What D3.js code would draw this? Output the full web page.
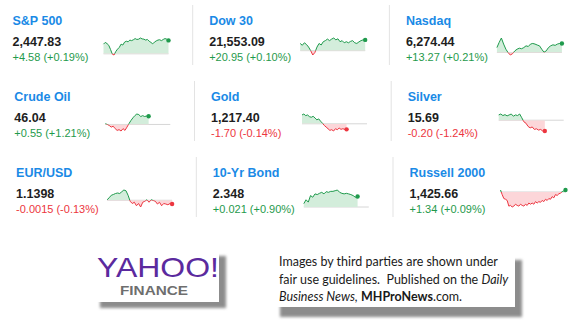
<!DOCTYPE html>
<html>
<head>
<meta charset="utf-8">
<script src="https://cdn.jsdelivr.net/npm/d3@7"></script>
<style>
  body { margin: 0; background: #fff; }
  svg { display: block; }
</style>
</head>
<body>
<div id="chart"></div>
<script>
// market summary, one entry per panel (row by row)
const names = ["S&P 500", "Dow 30", "Nasdaq", "Crude Oil", "Gold", "Silver", "EUR/USD", "10-Yr Bond", "Russell 2000"];
const priceLabels = ["2,447.83", "21,553.09", "6,274.44", "46.04", "1,217.40", "15.69", "1.1398", "2.348", "1,425.66"];
const changeLabels = ["+4.58 (+0.19%)", "+20.95 (+0.10%)", "+13.27 (+0.21%)", "+0.55 (+1.21%)", "-1.70 (-0.14%)",
  "-0.20 (-1.24%)", "-0.0015 (-0.13%)", "+0.021 (+0.90%)", "+1.34 (+0.09%)"];
const changes = [4.58, 20.95, 13.27, 0.55, -1.70, -0.20, -0.0015, 0.021, 1.34];

// intraday move vs previous close
const spSeries = [3.3, 3.9, 3.5, 2.9, 1.5, -0.1, -0.4, 0.8, 1.6, 2.2, 3.3, 3.0, 4.0, 4.3, 4.1, 4.7, 4.5, 4.8, 5.2, 4.9,
  5.0, 5.4, 5.1, 5.0, 4.7, 4.9, 4.3, 3.9, 3.4, 4.0, 4.4, 4.7, 4.8, 4.5, 4.9, 5.2, 5.0, 4.58];
const dowSeries = [14, 10.5, 15.3, 12, 7, 0, -8.4, -3.6, 7, 14, 11, 17.4, 19.5, 22.5, 19.5, 22.5, 24.6, 21, 23, 17.4,
  19.5, 15.3, 17.4, 15.3, 18, 19.5, 15.3, 14, 17, 19.5, 21, 20.95];
const nasdaqSeries = [7.2, 14.8, 21.4, 12.4, 4.8, -0.3, -3.8, -1.8, 2.3, 4.8, 6.3, 5.5, 7.2, 9.8, 8.8, 12.4, 13.3, 12.4,
  11, 9.8, 4.8, 0.3, 2.3, 7.2, 9.8, 11.3, 10.5, 12.4, 13.3, 13.27];
const crudeSeries = [0.05, 0, -0.07, -0.18, -0.12, -0.28, -0.40, -0.35, -0.44, -0.28, -0.40, -0.18, 0.05, 0.26, 0.44,
  0.59, 0.70, 0.66, 0.53, 0.59, 0.53, 0.57, 0.55];
const goldSeries = [2.7, 3.0, 2.5, 2.7, 2.2, 2.0, 2.3, 1.8, 1.2, 1.5, 0.8, 0.2, -0.5, -1.0, -1.5, -2.0, -1.8, -2.2, -1.5,
  -1.8, -1.3, -1.7, -1.5, -1.7, -1.70];
const silverSeries = [0.098, 0.115, 0.086, 0.103, 0.080, 0.098, 0.115, 0.074, 0.098, 0.086, 0.115, 0.046, -0.029, -0.056,
  -0.115, -0.142, -0.125, -0.171, -0.159, -0.183, -0.171, -0.2, -0.2];
const eurSeries = [0.0002, 0.001, 0.002, 0.0023, 0.0027, 0.0029, 0.0027, 0.0034, 0.0041, 0.0038, 0.002, -0.0004, -0.0013,
  -0.0008, -0.0022, -0.0013, -0.0027, -0.0008, -0.0004, 0.0002, -0.0008, 0.0002, -0.0001, -0.0004, -0.0015, -0.0008,
  -0.0022, -0.0013, -0.0015, -0.0018, -0.0013, -0.0015];
const bondSeries = [0.0067, 0.0145, 0.0098, 0.0229, 0.0196, 0.0263, 0.0249, 0.0274, 0.0294, 0.0263, 0.0308, 0.0294,
  0.0314, 0.0314, 0.0327, 0.0341, 0.0294, 0.0274, 0.0263, 0.0274, 0.0263, 0.0249, 0.0229, 0.0196, 0.021];
const russellSeries = [1.34, -1.8, -4.5, -5.0, -5.8, -9.7, -9.2, -10.3, -9.7, -8.4, -9.2, -9.7, -8.4, -9.2, -9.7, -8.4,
  -9.2, -7.6, -8.4, -7.6, -8.4, -6.6, -7.6, -6.6, -7.1, -5.8, -6.6, -5.0, -5.8, -4.5, -5.0, -3.2, -4.0, -1.8, -2.4,
  -1.3, -0.8, 0.2, 0.8, 1.34];

const allSeries = [spSeries, dowSeries, nasdaqSeries, crudeSeries, goldSeries, silverSeries, eurSeries, bondSeries, russellSeries];
// samples in a full session window (futures are still trading, so their lines stop early)
const sessionSlots = [38, 32, 30, 34, 36, 32, 32, 30, 40];

const width = 575, height = 325;
const green = "#1f9a4c", red = "#ec3640";
const greenFill = "#d3eddb", redFill = "#fcd6d9";
const font = "'Liberation Sans', Arial, sans-serif";

const svg = d3.select("#chart").append("svg")
  .attr("width", width)
  .attr("height", height);

const defs = svg.append("defs");
defs.append("filter").attr("id", "soft")
  .attr("x", "-10%").attr("y", "-20%").attr("width", "130%").attr("height", "150%")
  .append("feGaussianBlur").attr("stdDeviation", 1.8);

names.forEach((name, i) => {
  const col = i % 3, row = Math.floor(i / 3);
  const tx = 12.5 + col * 196.7 + row * 1.8;
  const ty = 25 + row * 76;
  const g = svg.append("g");

  // divider to the left of the 2nd and 3rd columns
  if (col > 0) {
    g.append("line")
      .attr("x1", tx - 16.5).attr("x2", tx - 16.5)
      .attr("y1", ty - 20).attr("y2", ty + 40)
      .attr("stroke", "#e3e3e3").attr("stroke-width", 1);
  }

  g.append("text")
    .attr("x", tx).attr("y", ty)
    .attr("font-family", font).attr("font-size", 12.5).attr("font-weight", "bold")
    .attr("fill", "#1a8ae6")
    .text(name);

  g.append("text")
    .attr("x", tx).attr("y", ty + 21)
    .attr("font-family", font).attr("font-size", 12.5).attr("font-weight", "bold")
    .attr("fill", "#1e1e1e")
    .text(priceLabels[i]);

  g.append("text")
    .attr("x", tx).attr("y", ty + 35.5)
    .attr("font-family", font).attr("font-size", 11)
    .attr("fill", changes[i] < 0 ? red : green)
    .text(changeLabels[i]);

  // sparkline
  const data = allSeries[i];
  const left = tx + 91, top = ty + 13, w = 65, h = 17;
  const x = d3.scaleLinear().domain([0, sessionSlots[i] - 1]).range([left, left + w]);
  const y = d3.scaleLinear().domain(d3.extent(data.concat([0]))).range([top + h, top]);
  const y0 = y(0);

  const upId = "up" + i, downId = "down" + i;
  defs.append("clipPath").attr("id", upId).append("rect")
    .attr("x", left - 3).attr("y", top - 5).attr("width", w + 6).attr("height", y0 - top + 5);
  defs.append("clipPath").attr("id", downId).append("rect")
    .attr("x", left - 3).attr("y", y0).attr("width", w + 6).attr("height", top + h - y0 + 5);

  const area = d3.area().x((d, j) => x(j)).y0(y0).y1(d => y(d));
  const line = d3.line().x((d, j) => x(j)).y(d => y(d));

  g.append("line")
    .attr("x1", left).attr("x2", left + w)
    .attr("y1", y0).attr("y2", y0)
    .attr("stroke", "#d6d6d6").attr("stroke-width", 1);

  [[upId, greenFill, green], [downId, redFill, red]].forEach(([id, fill, stroke]) => {
    g.append("path").datum(data)
      .attr("clip-path", `url(#${id})`)
      .attr("fill", fill)
      .attr("d", area);
    g.append("path").datum(data)
      .attr("clip-path", `url(#${id})`)
      .attr("fill", "none")
      .attr("stroke", stroke).attr("stroke-width", 1)
      .attr("stroke-linejoin", "round")
      .attr("d", line);
  });

  const last = data[data.length - 1];
  g.append("circle")
    .attr("cx", x(data.length - 1)).attr("cy", y(last))
    .attr("r", 2.2)
    .attr("fill", last < 0 ? red : green);
});

// boxes with drop shadows
function shadowBox(x0, y0, w, h, dx, dy) {
  svg.append("rect")
    .attr("x", x0 + dx).attr("y", y0 + dy).attr("width", w).attr("height", h)
    .attr("fill", "#8c8c8c").attr("filter", "url(#soft)");
  svg.append("rect")
    .attr("x", x0).attr("y", y0).attr("width", w).attr("height", h)
    .attr("fill", "#fff");
}

shadowBox(93, 250, 126, 52, 7, 6);
svg.append("text")
  .attr("x", 97).attr("y", 277)
  .attr("font-family", font).attr("font-size", 28)
  .attr("textLength", 122).attr("lengthAdjust", "spacingAndGlyphs")
  .attr("fill", "#5b2a9e")
  .text("YAHOO!");
svg.append("text")
  .attr("x", 120).attr("y", 295)
  .attr("font-family", font).attr("font-size", 13.5).attr("font-weight", "bold")
  .attr("textLength", 68).attr("lengthAdjust", "spacingAndGlyphs")
  .attr("fill", "#6e6e6e")
  .text("FINANCE");

shadowBox(273, 250, 242, 57, 7, 10);
const note = svg.append("g")
  .attr("font-family", "Lato, 'Open Sans', sans-serif")
  .attr("fill", "#1a1a1a");
const l1 = note.append("text").attr("x", 279).attr("y", 266)
  .text("Images by third parties are shown under");
const l2 = note.append("text").attr("x", 279).attr("y", 284);
l2.append("tspan").text("fair use guidelines.\u00a0 Published on the ");
l2.append("tspan").attr("font-style", "italic").text("Daily");
const l3 = note.append("text").attr("x", 279).attr("y", 301);
l3.append("tspan").attr("font-style", "italic").text("Business News,");
l3.append("tspan").text(" ");
l3.append("tspan").attr("font-weight", "bold").text("MHProNews");
l3.append("tspan").text(".com.");

// fit the note's font size so its first line spans the box like the original
note.attr("font-size", 13);
const measured = l1.node().getComputedTextLength();
note.attr("font-size", 13 * 219 / measured);
</script>
</body>
</html>
